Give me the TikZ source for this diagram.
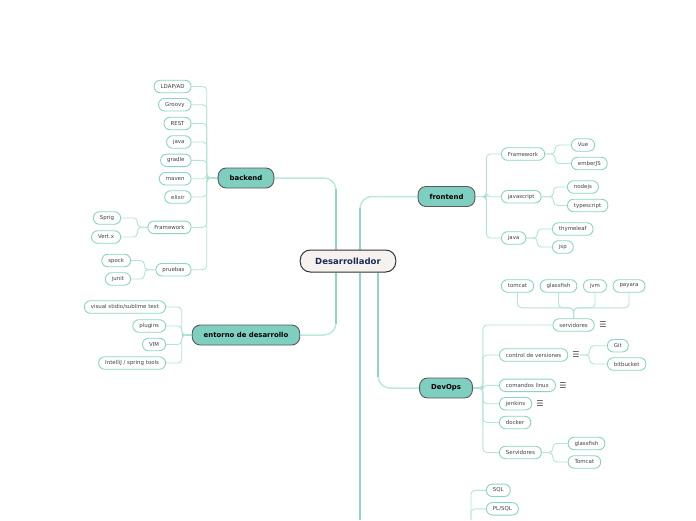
\documentclass[tikz,border=0pt]{standalone}
\usepackage{fontspec}
\setmainfont{DejaVu Sans}
\usetikzlibrary{backgrounds}
\definecolor{leafdraw}{HTML}{8AD3C5}
\definecolor{leaftext}{HTML}{404040}
\definecolor{mmfill}{HTML}{7FCFC1}
\definecolor{branchdraw}{HTML}{5A5A5A}
\definecolor{rootfill}{HTML}{F5F2F0}
\definecolor{rootdraw}{HTML}{333333}
\definecolor{roottext}{HTML}{1B2A55}
\definecolor{lconncol}{HTML}{B5E4DA}
\definecolor{mconncol}{HTML}{8FD5C8}
\definecolor{mthincol}{HTML}{BDE8DF}
\definecolor{menucol}{HTML}{444444}
\tikzset{
  leaf/.style={draw=leafdraw, line width=0.9pt, fill=white, rounded corners=6pt,
    minimum height=12.5pt, inner xsep=6.5pt, inner ysep=0pt,
    font=\fontsize{5.45}{6}\selectfont, text=leaftext},
  branch/.style={draw=branchdraw, line width=0.9pt, fill=mmfill, rounded corners=8pt,
    minimum height=20pt, inner xsep=11.5pt, inner ysep=0pt,
    font=\fontsize{6.9}{8}\bfseries\selectfont, text=black},
  rootbox/.style={draw=rootdraw, line width=1pt, fill=rootfill, rounded corners=10pt,
    minimum height=22pt, inner xsep=15pt, inner ysep=0pt,
    font=\fontsize{8.5}{10}\bfseries\selectfont, text=roottext},
  lconn/.style={draw=lconncol, line width=0.9pt, rounded corners=4pt},
  bconn/.style={draw=mconncol, line width=1.6pt},
  mthin/.style={draw=mthincol, line width=1.5pt, rounded corners=12pt},
  mthick/.style={draw=mconncol, line width=2.6pt, shorten >=11pt},
  menu/.style={font=\fontsize{8}{8}\selectfont, text=menucol, inner sep=0pt},
}
\begin{document}
\begin{tikzpicture}[x=1pt,y=-1pt]
\useasboundingbox (0,0) rectangle (696,520);
\begin{scope}[on background layer]
  \fill[white] (0,0) rectangle (696,520);
\end{scope}

% root and branches
\node[rootbox] (root) at (348,261) {Desarrollador};
\node[branch] (backend) at (246,178) {backend};
\node[branch] (entorno) at (246,335) {entorno de desarrollo};
\node[branch] (frontend) at (446.5,196.5) {frontend};
\node[branch] (devops) at (446,388) {DevOps};
\coordinate (bot) at (360,520);

% backend leaves
\node[leaf, anchor=east] (ldap) at (191.5,86.5) {LDAP/AD};
\node[leaf, anchor=east] (groovy) at (191.5,104.7) {Groovy};
\node[leaf, anchor=east] (rest) at (191.5,123.5) {REST};
\node[leaf, anchor=east] (bjava) at (191.5,142) {java};
\node[leaf, anchor=east] (gradle) at (191.5,160.3) {gradle};
\node[leaf, anchor=east] (maven) at (191.5,178.7) {maven};
\node[leaf, anchor=east] (elixir) at (191.5,197) {elixir};
\node[leaf, anchor=east] (bfw) at (191.5,227.3) {Framework};
\node[leaf, anchor=east] (pruebas) at (191.5,269.7) {pruebas};
\node[leaf, anchor=east] (sprig) at (121,218) {Sprig};
\node[leaf, anchor=east] (vertx) at (121,237) {Vert.x};
\node[leaf, anchor=east] (spock) at (131,260.5) {spock};
\node[leaf, anchor=east] (junit) at (131,279) {junit};

% entorno leaves
\node[leaf, anchor=east] (vs) at (166,307) {visual stidio/sublime text};
\node[leaf, anchor=east] (plugins) at (166,326) {plugins};
\node[leaf, anchor=east] (vim) at (166,344.5) {VIM};
\node[leaf, anchor=east] (intellij) at (166,363) {IntelliJ / spring tools};

% frontend leaves
\node[leaf, anchor=west] (ffw) at (501,154) {Framework};
\node[leaf, anchor=west] (js) at (501,196.7) {javascript};
\node[leaf, anchor=west] (fjava) at (501,238) {java};
\node[leaf, anchor=west] (vue) at (571,145) {Vue};
\node[leaf, anchor=west] (ember) at (571,163.5) {emberJS};
\node[leaf, anchor=west] (nodejs) at (567,187) {nodejs};
\node[leaf, anchor=west] (ts) at (567,205.5) {typescript};
\node[leaf, anchor=west] (thyme) at (552,229) {thymeleaf};
\node[leaf, anchor=west] (jsp) at (552,247) {jsp};

% devops leaves
\node[leaf, anchor=west] (serv) at (552.5,325) {servidores};
\node[menu] (m1) at (603,325) {☰};
\node[leaf] (tomcat) at (517.5,286) {tomcat};
\node[leaf] (glass) at (558.5,286) {glassfish};
\node[leaf] (jvm) at (595,286) {jvm};
\node[leaf] (payara) at (629,286) {payara};
\node[leaf, anchor=west] (cv) at (499,355) {control de versiones};
\node[menu] (m2) at (576,355) {☰};
\node[leaf, anchor=west] (git) at (607,345.7) {Git};
\node[leaf, anchor=west] (bitb) at (607,364) {bitbucket};
\node[leaf, anchor=west] (linux) at (499,385.3) {comandos linux};
\node[menu] (m3) at (563,385.3) {☰};
\node[leaf, anchor=west] (jenkins) at (499,403.7) {jenkins};
\node[menu] (m4) at (540,403.7) {☰};
\node[leaf, anchor=west] (docker) at (499,422.5) {docker};
\node[leaf, anchor=west] (serv2) at (499,452.5) {Servidores};
\node[leaf, anchor=west] (glass2) at (567.7,443.5) {glassfish};
\node[leaf, anchor=west] (tomcat2) at (567.7,462) {Tomcat};

% bottom branch leaves
\node[leaf, anchor=west] (sql) at (486,490.3) {SQL};
\node[leaf, anchor=west] (plsql) at (486,508.8) {PL/SQL};
\coordinate (dbj) at (471,520);

\begin{scope}[on background layer]
  % main connectors (tapering: thin full path + thick trunk)
  \draw[mthin] ([xshift=-12pt]root.north) |- (backend.east);
  \draw[mthick] ([xshift=-12pt]root.north) -- ([xshift=-12pt]root.north |- backend.east);
  \draw[mthin] ([xshift=-12pt]root.south) |- (entorno.east);
  \draw[mthick] ([xshift=-12pt]root.south) -- ([xshift=-12pt]root.south |- entorno.east);
  \draw[mthin] ([xshift=12pt]root.north) |- (frontend.west);
  \draw[mthick] ([xshift=12pt]root.north) -- ([xshift=12pt]root.north |- frontend.west);
  \draw[mthick, shorten >=0pt] ([xshift=12pt]root.south) -- (bot);
  \draw[mthin] ([xshift=30pt]root.south) |- (devops.west);
  \draw[mthick] ([xshift=30pt]root.south) -- ([xshift=30pt]root.south |- devops.west);

  % backend
  \draw[bconn] (backend.west) -- ++(-11,0);
  \foreach \n in {ldap,groovy,rest,bjava,gradle,maven,elixir,bfw,pruebas}
    \draw[lconn] (backend.west) -- ++(-11,0) |- (\n.east);
  \foreach \n in {sprig,vertx}
    \draw[lconn] (bfw.west) -- ++(-10,0) |- (\n.east);
  \foreach \n in {spock,junit}
    \draw[lconn] (pruebas.west) -- ++(-11,0) |- (\n.east);

  % entorno
  \draw[bconn] (entorno.west) -- ++(-10,0);
  \foreach \n in {vs,plugins,vim,intellij}
    \draw[lconn] (entorno.west) -- ++(-10,0) |- (\n.east);

  % frontend
  \draw[bconn] (frontend.east) -- ++(11,0);
  \foreach \n in {ffw,js,fjava}
    \draw[lconn] (frontend.east) -- ++(11,0) |- (\n.west);
  \foreach \n in {vue,ember}
    \draw[lconn] (ffw.east) -- ++(10,0) |- (\n.west);
  \foreach \n in {nodejs,ts}
    \draw[lconn] (js.east) -- ++(12,0) |- (\n.west);
  \foreach \n in {thyme,jsp}
    \draw[lconn] (fjava.east) -- ++(11,0) |- (\n.west);

  % devops
  \draw[bconn] (devops.east) -- ++(10,0);
  \foreach \n in {serv,cv,linux,jenkins,docker,serv2}
    \draw[lconn] (devops.east) -- ++(10,0) |- (\n.west);
  \foreach \n in {tomcat,glass,jvm,payara}
    \draw[lconn] (serv.north) -- ++(0,-10.5) -| (\n.south);
  \foreach \n in {git,bitb}
    \draw[lconn] (m2.east) -- ++(10,0) |- (\n.west);
  \foreach \n in {glass2,tomcat2}
    \draw[lconn] (serv2.east) -- ++(11,0) |- (\n.west);

  % bottom branch
  \foreach \n in {sql,plsql}
    \draw[lconn] (dbj) |- (\n.west);
\end{scope}
\end{tikzpicture}
\end{document}
